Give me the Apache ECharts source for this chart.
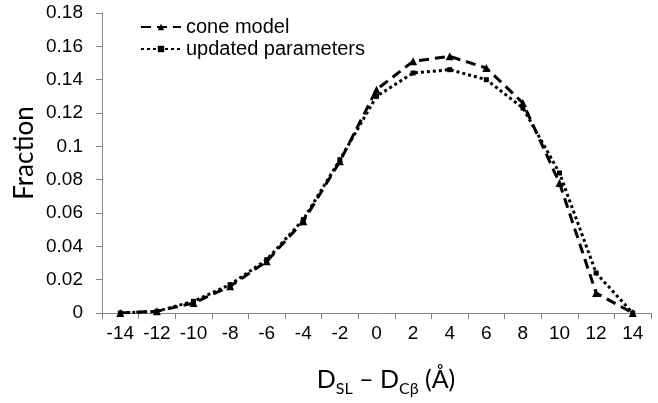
<!DOCTYPE html>
<html><head><meta charset="utf-8">
<script src="https://cdn.jsdelivr.net/npm/echarts@6/dist/echarts.min.js"></script>
<style>html,body{margin:0;padding:0;background:#fff}#c{width:658px;height:403px}</style>
</head><body><div id="c"></div>
<script>
const categories = ['-14','-12','-10','-8','-6','-4','-2','0','2','4','6','8','10','12','14'];
const coneModel = [0.000,0.001,0.006,0.016,0.031,0.055,0.091,0.134,0.151,0.154,0.147,0.126,0.078,0.012,0.000];
const updatedParams = [0.000,0.001,0.007,0.017,0.032,0.056,0.092,0.130,0.144,0.146,0.140,0.123,0.084,0.024,0.000];
const yTicks = {min:0, max:0.18, interval:0.02};

const chart = echarts.init(document.getElementById('c'), null, {renderer:'canvas'});
const axisGray = '#868686';
chart.setOption({
  animation:false,
  backgroundColor:'#fff',
  grid:{left:102, right:7, top:13, bottom:90, containLabel:false},
  legend:{
    orient:'vertical', left:135, top:12, itemWidth:40, itemHeight:8, itemGap:2,
    textStyle:{fontFamily:'Liberation Sans', fontSize:20, color:'#000'},
    data:['cone model','updated parameters']
  },
  xAxis:{
    type:'category', data:categories, boundaryGap:true,
    axisLine:{lineStyle:{color:axisGray, width:1}},
    axisTick:{show:true, inside:false, length:6, alignWithLabel:false, lineStyle:{color:axisGray}},
    axisLabel:{fontFamily:'Liberation Sans', fontSize:19, color:'#000', margin:11, interval:0},
    splitLine:{show:false}
  },
  yAxis:{
    type:'value', min:yTicks.min, max:yTicks.max, interval:yTicks.interval,
    axisLine:{show:true, lineStyle:{color:axisGray, width:1}},
    axisTick:{show:true, inside:false, length:6, lineStyle:{color:axisGray}},
    axisLabel:{fontFamily:'Liberation Sans', fontSize:19, color:'#000', margin:19,
      formatter:v=>String(+v.toFixed(2))},
    splitLine:{show:false}
  },
  series:[
    {name:'cone model', type:'line', data:coneModel, symbol:'triangle', symbolSize:8,
     itemStyle:{color:'#000'}, lineStyle:{color:'#000', width:3, type:[10,6]}},
    {name:'updated parameters', type:'line', data:updatedParams, symbol:'rect', symbolSize:5,
     itemStyle:{color:'#000'}, lineStyle:{color:'#000', width:3, type:[3,3]}}
  ],
  graphic:[
    {type:'text', x:25, y:153, rotation:Math.PI/2,
     style:{text:'Fraction', font:'26px Lato', fill:'#000', textAlign:'center', textVerticalAlign:'middle'}},
    {type:'text', x:386, y:380,
     style:{
       text:'{m|D}{s|SL}{m| – D}{s|Cβ}{m| (Å)}',
       textAlign:'center', textVerticalAlign:'middle',
       rich:{
         m:{fontFamily:'Lato', fontSize:25, fill:'#000', color:'#000', verticalAlign:'bottom'},
         s:{fontFamily:'Lato', fontSize:16, fill:'#000', color:'#000', verticalAlign:'bottom', padding:[0,0,-4,0]}
       }
     }}
  ]
});
</script></body></html>
